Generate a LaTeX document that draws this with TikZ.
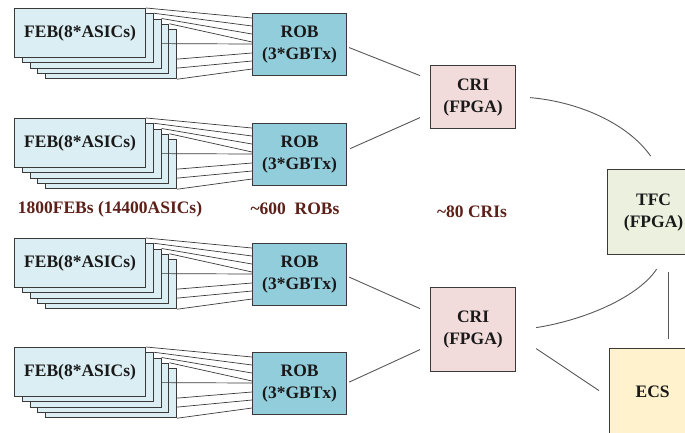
\documentclass[tikz,border=0pt]{standalone}
\usepackage{fontspec}
\setmainfont{Liberation Serif}
\usetikzlibrary{calc}
\definecolor{febfill}{HTML}{DBEEF3}
\definecolor{robfill}{HTML}{92CDDC}
\definecolor{crifill}{HTML}{F2DCDB}
\definecolor{tfcfill}{HTML}{EBF1DE}
\definecolor{ecsfill}{HTML}{FFF2CC}
\definecolor{edgec}{HTML}{3A3A3A}
\definecolor{lblc}{HTML}{5C2018}
\tikzset{
  box/.style={draw=edgec, line width=1.2pt, inner sep=0pt, anchor=north west,
    font=\fontsize{17.5}{22}\selectfont\bfseries, text=black!90, align=center},
  febbox/.style={box, fill=febfill, minimum width=131pt, minimum height=49pt},
  robbox/.style={box, fill=robfill, minimum width=94pt, minimum height=62pt},
  cribox/.style={box, fill=crifill, minimum width=85pt},
  fan/.style={draw=edgec, line width=0.7pt},
  conn/.style={draw=edgec!85, line width=0.9pt},
  lab/.style={text=lblc, font=\fontsize{17.5}{22}\selectfont\bfseries}
}
\begin{document}
\begin{tikzpicture}[x=1pt,y=-1pt]
\useasboundingbox (0,0) rectangle (685,432);
\clip (0,0) rectangle (685,432);
\foreach \g/\dy in {1/0,2/110,3/230,4/339}{
  \foreach \k in {4,3,2,1}{
    \node[febbox] (feb\g-\k) at ({14+7.75*\k},{8+\dy+5.25*\k}) {};
  }
  \node[febbox] (feb\g-0) at (14,{8+\dy}) {FEB(8*ASICs)};
  \node[robbox] (rob\g) at (252,{13+\dy}) {ROB\\(3*GBTx)};
  \draw[fan] (feb\g-0.north east) -- ($(rob\g.north west)+(0,5)$);
  \draw[fan] (feb\g-1.north east) -- ($(rob\g.north west)+(0,13)$);
  \draw[fan] (feb\g-2.north east) -- ($(rob\g.north west)+(0,21)$);
  \draw[fan] (feb\g-3.north east) -- ($(rob\g.north west)+(0,29)$);
  \draw[fan] (feb\g-2.east) -- ($(rob\g.north west)+(0,31)$);
  \draw[fan] ($(feb\g-4.east)+(0,5)$) -- ($(rob\g.north west)+(0,40)$);
  \draw[fan] ($(feb\g-4.east)+(0,14)$) -- ($(rob\g.north west)+(0,48)$);
  \draw[fan] (feb\g-4.south east) -- ($(rob\g.north west)+(0,56)$);
}
\node[cribox, minimum height=63pt] (cri1) at (430,65) {CRI\\(FPGA)};
\node[cribox, minimum height=84pt] (cri2) at (430,287) {CRI\\(FPGA)};
\node[box, fill=tfcfill, minimum width=92pt, minimum height=85pt] (tfc) at (607,169) {TFC\\(FPGA)};
\node[box, fill=ecsfill, minimum width=86pt, minimum height=86pt] (ecs) at (609,348) {ECS};

\node[lab] (lfeb) at (110,209) {1800FEBs (14400ASICs)};
\node[lab] (lrob) at (295,209) {\textasciitilde600\ \ ROBs};
\node[lab] (lcri) at (472,212) {\textasciitilde80 CRIs};

\draw[conn] ($(rob1.east)+(2,3)$) -- ($(cri1.west)+(-10,-21.5)$);
\draw[conn] ($(rob2.east)+(3,-6)$) -- ($(cri1.west)+(-10,20.5)$);
\draw[conn] ($(rob3.east)+(2,2.5)$) -- ($(cri2.west)+(-10,-21)$);
\draw[conn] ($(rob4.east)+(2,-1.5)$) -- ($(cri2.west)+(-10,20)$);
\draw[conn] ($(cri1.east)+(14,0.5)$) .. controls (580,102) and (628,124) .. ($(tfc.north)+(-3,-13)$);
\draw[conn] ($(cri2.east)+(20,-2)$) .. controls (585,320) and (638,297) .. ($(tfc.south)+(3,14)$);
\draw[conn] ($(tfc.south)+(15,17)$) -- ($(ecs.north)+(16,-9)$);
\draw[conn] ($(cri2.east)+(20,19)$) -- ($(ecs.west)+(-10,-1)$);
\end{tikzpicture}
\end{document}
